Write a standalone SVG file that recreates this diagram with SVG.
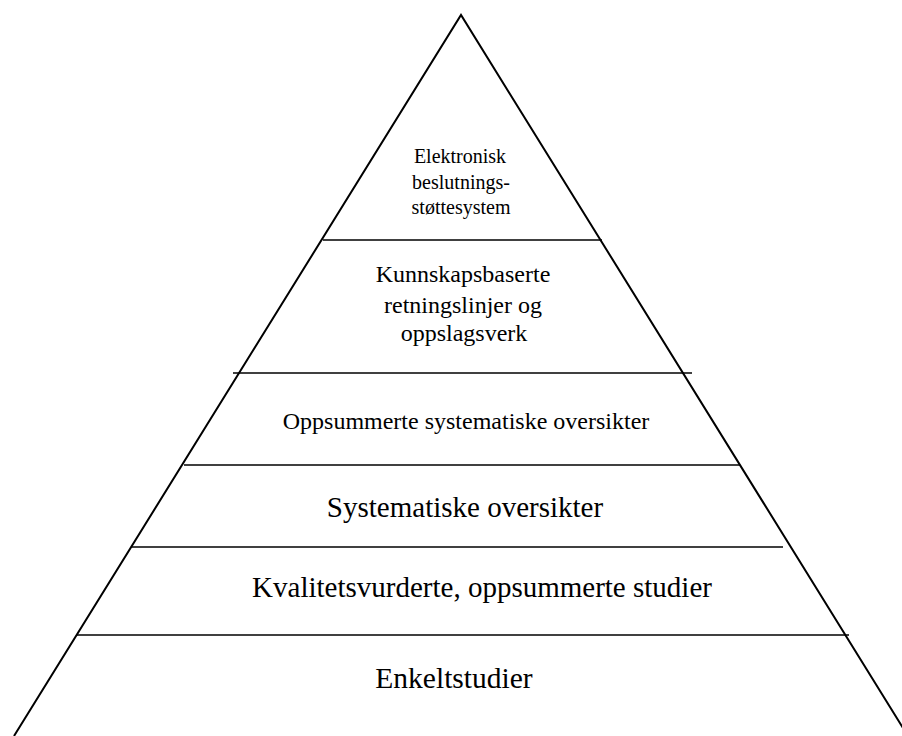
<svg xmlns="http://www.w3.org/2000/svg" width="902" height="736" viewBox="0 0 902 736">
<style>
.edge{stroke:#000;stroke-width:2;fill:none}
.div{stroke:#000;stroke-width:1.5}
text{font-family:"Liberation Serif","Times New Roman",serif;fill:#000;text-anchor:middle}
</style>
<rect width="902" height="736" fill="#fff"/>
<g id="pyramid">
<path class="edge" d="M14,736 L461,15 L908,736"/>
</g>
<g id="connectors">
<line class="div" x1="323" y1="240" x2="602" y2="240"/>
<line class="div" x1="233" y1="373" x2="692" y2="373"/>
<line class="div" x1="184" y1="465" x2="740" y2="465"/>
<line class="div" x1="131" y1="547" x2="783" y2="547"/>
<line class="div" x1="76" y1="635" x2="849" y2="635"/>
</g>
<g id="level6">
<text x="460" y="163" font-size="20">Elektronisk</text>
<text x="461" y="189" font-size="20">beslutnings-</text>
<text x="461" y="214" font-size="20">støttesystem</text>
</g>
<g id="level5">
<text x="463" y="282" font-size="24">Kunnskapsbaserte</text>
<text x="463" y="313" font-size="24">retningslinjer og</text>
<text x="464" y="341" font-size="24">oppslagsverk</text>
</g>
<g id="level4"><text x="466" y="429" font-size="24">Oppsummerte systematiske oversikter</text></g>
<g id="level3"><text x="465" y="517" font-size="29">Systematiske oversikter</text></g>
<g id="level2"><text x="482" y="597" font-size="29">Kvalitetsvurderte, oppsummerte studier</text></g>
<g id="level1"><text x="454" y="688" font-size="29.5">Enkeltstudier</text></g>
</svg>
